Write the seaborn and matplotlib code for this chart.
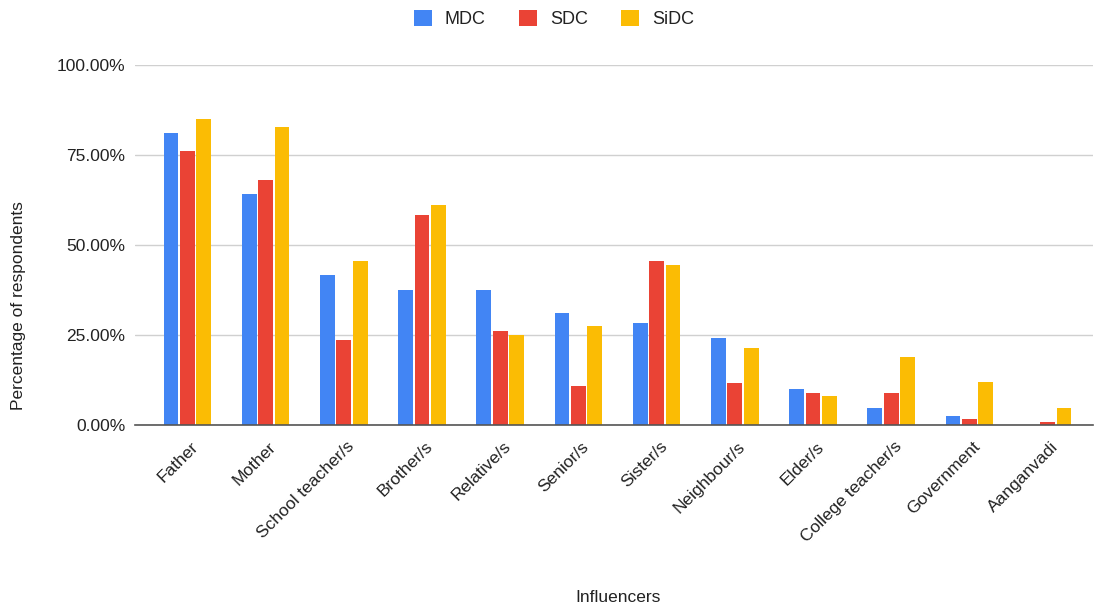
import pandas as pd
import matplotlib.pyplot as plt
import matplotlib.ticker as mticker
import matplotlib.transforms as mtransforms
import seaborn as sns

# values (fractions of respondents)
influencers = ['Father', 'Mother', 'School teacher/s', 'Brother/s', 'Relative/s',
               'Senior/s', 'Sister/s', 'Neighbour/s', 'Elder/s',
               'College teacher/s', 'Government', 'Aanganvadi']
mdc = [0.811, 0.643, 0.418, 0.375, 0.375, 0.310, 0.284, 0.241, 0.099, 0.047, 0.025, 0.0]
sdc = [0.760, 0.681, 0.236, 0.582, 0.262, 0.107, 0.456, 0.116, 0.090, 0.090, 0.016, 0.008]
sidc = [0.850, 0.829, 0.456, 0.612, 0.249, 0.275, 0.444, 0.215, 0.080, 0.190, 0.120, 0.047]
groups = ['MDC', 'SDC', 'SiDC']
colors = ['#4285F4', '#EA4335', '#FBBC04']

df = pd.DataFrame({'Influencer': influencers * 3,
                   'Group': sum([[g] * len(influencers) for g in groups], []),
                   'Value': mdc + sdc + sidc})

sns.set_theme(style='white')
plt.rcParams['font.family'] = ['Liberation Sans', 'DejaVu Sans']

fig = plt.figure(figsize=(10.94, 6.07), dpi=100)
ax = fig.add_axes([135 / 1094, 1 - 425 / 607, 958 / 1094, 360 / 607])

sns.barplot(data=df, x='Influencer', y='Value', hue='Group', palette=colors,
            saturation=1, width=0.63, gap=0.1, linewidth=0, ax=ax, legend=True)

ax.set_ylim(0, 1)
ax.set_xlim(-0.67, 11.58)
ax.yaxis.set_major_locator(mticker.MultipleLocator(0.25))
ax.yaxis.set_major_formatter(mticker.PercentFormatter(1.0, decimals=2))
ax.grid(axis='y', color='#d0d0d0', linewidth=1)
ax.set_axisbelow(True)
for s in ['top', 'right', 'left']:
    ax.spines[s].set_visible(False)
ax.spines['bottom'].set_color('#555555')
ax.spines['bottom'].set_linewidth(1.2)
ax.tick_params(axis='y', length=0, labelsize=12.5, colors='#222222', pad=7)
ax.tick_params(axis='x', length=0, labelsize=12.5, colors='#222222', pad=10)
shift = mtransforms.ScaledTranslation(3 / 100, 0, fig.dpi_scale_trans)
for lab in ax.get_xticklabels():
    lab.set_rotation(45)
    lab.set_ha('right')
    lab.set_rotation_mode('anchor')
    lab.set_transform(lab.get_transform() + shift)

ax.set_xlabel('')
ax.set_ylabel('')
fig.text(618 / 1094, 1 - 597 / 607, 'Influencers', ha='center', va='center',
         fontsize=12.5, color='#222222')
fig.text(18.5 / 1094, 1 - 306 / 607, 'Percentage of respondents', ha='center',
         va='center', rotation=90, fontsize=12.5, color='#222222')

handles, labels = ax.get_legend_handles_labels()
ax.get_legend().remove()
fig.legend(handles, labels, loc='center', bbox_to_anchor=(554 / 1094, 1 - 19 / 607),
           ncol=3, frameon=False, fontsize=13, handlelength=1.0, handleheight=1.0,
           columnspacing=1.85, handletextpad=0.72, labelcolor='#222222')

fig.savefig('out.png', dpi=100)
